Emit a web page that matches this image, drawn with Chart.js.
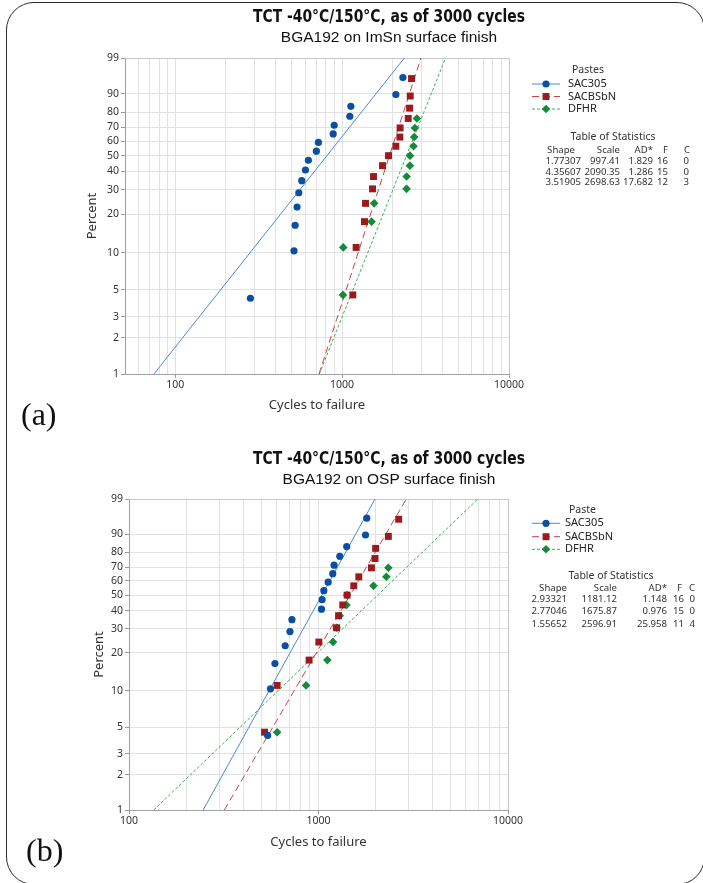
<!DOCTYPE html>
<html>
<head>
<meta charset="utf-8">
<script src="https://cdn.jsdelivr.net/npm/chart.js@4.4.1/dist/chart.umd.min.js"></script>
<style>
  html, body { margin: 0; padding: 0; background: #fff; }
  body { width: 703px; height: 883px; position: relative; overflow: hidden; }
  .frame { position: absolute; left: 6px; top: 2px; width: 699px; height: 883px; box-sizing: border-box;
           border: 1.6px solid #2b2b2b; border-radius: 28px; }
  canvas { position: absolute; left: 0; }
  #chartA { top: 0; }
  #chartB { top: 440px; }
  .tag { position: absolute; font-family: 'Liberation Serif', 'Times New Roman', serif; font-size: 32px;
         color: #111; line-height: 1; }
</style>
</head>
<body>
<div class="frame"></div>
<canvas id="chartA" width="703" height="440"></canvas>
<canvas id="chartB" width="703" height="443"></canvas>
<div class="tag" style="left:21px; top:398px;">(a)</div>
<div class="tag" style="left:26px; top:834px;">(b)</div>
<script>
// axis ticks
const PCT_TICKS = [1, 2, 3, 5, 10, 20, 30, 40, 50, 60, 70, 80, 90, 99];
const CYCLE_TICKS_A = [50, 60, 70, 80, 90, 100, 200, 300, 400, 500, 600, 700, 800, 900,
                       1000, 2000, 3000, 4000, 5000, 6000, 7000, 8000, 9000, 10000];
const CYCLE_TICKS_B = [100, 200, 300, 400, 500, 600, 700, 800, 900,
                       1000, 2000, 3000, 4000, 5000, 6000, 7000, 8000, 9000, 10000];
const CYCLE_LABELS = [100, 1000, 10000];

const PASTES = ['SAC305', 'SACBSbN', 'DFHR'];
const STAT_HEADERS = ['Shape', 'Scale', 'AD*', 'F', 'C'];

// plotting positions (median ranks)
const RANK_16 = [4.27, 10.37, 16.46, 22.56, 28.66, 34.76, 40.85, 46.95, 53.05, 59.15, 65.24, 71.34, 77.44, 83.54, 89.63, 95.73];
const RANK_15 = [4.55, 11.04, 17.53, 24.03, 30.52, 37.01, 43.51, 50.0, 56.49, 62.99, 69.48, 75.97, 82.47, 88.96, 95.45];

// ImSn surface finish
const IMSN_SAC305_CYC  = [282, 515, 523, 537, 550, 573, 603, 628, 701, 721, 884, 896, 1112, 1128, 2099, 2313];
const IMSN_SACBSBN_CYC = [1159, 1213, 1362, 1381, 1521, 1542, 1746, 1897, 2099, 2219, 2225, 2490, 2537, 2559, 2606];
const IMSN_DFHR_CYC    = [1012, 1016, 1501, 1556, 2432, 2436, 2547, 2550, 2680, 2704, 2729, 2805];
const IMSN_DFHR_PCT    = [4.55, 11.04, 17.53, 24.03, 30.52, 37.01, 43.51, 50.0, 56.49, 62.99, 69.48, 75.97];
const IMSN_SHAPE = [1.77307, 4.35607, 3.51905];
const IMSN_SCALE = [997.41, 2090.35, 2698.63];
const IMSN_AD    = [1.829, 1.286, 17.682];
const IMSN_F     = [16, 15, 12];
const IMSN_C     = [0, 0, 3];

// OSP surface finish
const OSP_SAC305_CYC  = [539, 558, 589, 667, 707, 724, 1037, 1045, 1067, 1124, 1189, 1208, 1295, 1409, 1770, 1798];
const OSP_SACBSBN_CYC = [519, 605, 892, 1004, 1245, 1276, 1343, 1416, 1535, 1632, 1903, 1987, 2003, 2337, 2649];
const OSP_DFHR_CYC    = [605, 860, 1114, 1194, 1248, 1295, 1405, 1416, 1950, 2281, 2337];
const OSP_DFHR_PCT    = [4.55, 11.04, 17.53, 24.03, 30.52, 37.01, 43.51, 50.0, 56.49, 62.99, 69.48];
const OSP_SHAPE = [2.93321, 2.77046, 1.55652];
const OSP_SCALE = [1181.12, 1675.87, 2596.91];
const OSP_AD    = [1.148, 0.976, 25.958];
const OSP_F     = [16, 15, 11];
const OSP_C     = [0, 0, 4];

const STYLES = [
  { point: 'circle',  radius: 3.6, color: '#0b4fa3', line: '#4a8ad6', dash: [] },
  { point: 'rect',    radius: 4.9, color: '#9a1a1e', line: '#c4454a', dash: [7, 4] },
  { point: 'rectRot', radius: 4.3, color: '#148a3a', line: '#3fae52', dash: [3, 2] },
];

const BASE_FONT = "'Noto Sans', 'Open Sans', sans-serif";
const TITLE_FONT = "bold 17px 'Liberation Sans Narrow', 'DejaVu Sans Condensed', 'Liberation Sans', sans-serif";
const SUB_FONT = "15.5px 'Liberation Sans', Arial, sans-serif";

Chart.defaults.font.family = BASE_FONT;
Chart.defaults.color = '#333';

// Weibull probability axis: linear in ln(-ln(1 - p))
const weibullY = p => Math.log(-Math.log(1 - p / 100));
// life at probability p for a 2-parameter Weibull fit
const weibullLife = (p, shape, scale) => scale * Math.pow(-Math.log(1 - p / 100), 1 / shape);

class WeibullScale extends Chart.LinearScale {
  determineDataLimits() {
    this.min = this.options.min;
    this.max = this.options.max;
  }
  buildTicks() {
    this.start = this.min;
    this.end = this.max;
    return PCT_TICKS.map(value => ({ value }));
  }
  configure() {
    super.configure();
    this._wLo = weibullY(this.min);
    this._wHi = weibullY(this.max);
  }
  getPixelForValue(value) {
    return this.getPixelForDecimal((weibullY(value) - this._wLo) / (this._wHi - this._wLo));
  }
  getValueForPixel(pixel) {
    const w = this._wLo + this.getDecimalForPixel(pixel) * (this._wHi - this._wLo);
    return 100 * (1 - Math.exp(-Math.exp(w)));
  }
}
WeibullScale.id = 'weibull';
WeibullScale.defaults = {};
Chart.register(WeibullScale);

// titles, top/right frame, legend and statistics table
const panelDecor = {
  id: 'panelDecor',
  beforeDatasetsDraw(chart) {
    const { ctx, chartArea: a } = chart;
    ctx.save();
    ctx.strokeStyle = '#c6c6c6';
    ctx.lineWidth = 1;
    ctx.beginPath();
    const top = Math.round(a.top) + 0.5, right = Math.round(a.right) + 0.5;
    ctx.moveTo(a.left, top);
    ctx.lineTo(right, top);
    ctx.lineTo(right, a.bottom);
    ctx.stroke();
    ctx.restore();
  },
  afterDraw(chart, args, o) {
    const { ctx } = chart;
    ctx.save();
    ctx.fillStyle = '#111';
    ctx.textAlign = 'center';
    ctx.textBaseline = 'alphabetic';
    ctx.font = TITLE_FONT;
    ctx.fillText(o.title, o.cx, o.titleY, 272);
    ctx.font = SUB_FONT;
    ctx.fillText(o.subtitle, o.cx, o.subtitleY, 218);

    ctx.textBaseline = 'middle';
    ctx.textAlign = 'left';
    ctx.font = '10.5px ' + BASE_FONT;
    ctx.fillStyle = '#333';
    ctx.fillText(o.legendTitle, o.legendTitleX, o.legendTitleY);
    PASTES.forEach((name, i) => {
      const st = STYLES[i];
      const y = o.legendY[i];
      ctx.strokeStyle = st.line;
      ctx.lineWidth = 1;
      ctx.setLineDash(st.dash);
      ctx.beginPath();
      ctx.moveTo(o.swatch[0], y);
      ctx.lineTo(o.swatch[1], y);
      ctx.stroke();
      ctx.setLineDash([]);
      ctx.fillStyle = st.color;
      Chart.helpers.drawPoint(ctx, { pointStyle: st.point, radius: st.radius, rotation: 0, borderWidth: 0 },
        (o.swatch[0] + o.swatch[1]) / 2, y);
      ctx.fillStyle = '#222';
      ctx.font = '11px ' + BASE_FONT;
      ctx.fillText(name, o.legendTextX, y);
    });

    ctx.fillStyle = '#333';
    ctx.font = '10.5px ' + BASE_FONT;
    ctx.textAlign = 'center';
    ctx.fillText('Table of Statistics', o.tableTitleX, o.tableTitleY);
    ctx.font = '9.6px ' + BASE_FONT;
    ctx.textAlign = 'right';
    STAT_HEADERS.forEach((h, j) => ctx.fillText(h, o.headerRight[j], o.headerY));
    const s = o.stats;
    PASTES.forEach((name, i) => {
      const cells = [s.shape[i].toFixed(5), s.scale[i].toFixed(2), s.ad[i].toFixed(3), String(s.f[i]), String(s.c[i])];
      cells.forEach((txt, j) => ctx.fillText(txt, o.valueRight[j], o.rowY[i]));
    });
    ctx.restore();
  }
};

function buildDatasets(cycles, pcts, shapes, scales) {
  const sets = [];
  PASTES.forEach((name, i) => {
    const st = STYLES[i];
    sets.push({
      type: 'scatter',
      label: name,
      data: cycles[i].map((c, k) => ({ x: c, y: pcts[i][k] })),
      pointStyle: st.point,
      pointRadius: st.radius,
      backgroundColor: st.color,
      borderWidth: 0,
      order: 0,
    });
    sets.push({
      type: 'line',
      label: name + ' fit',
      data: [PCT_TICKS[0], PCT_TICKS[PCT_TICKS.length - 1]].map(p => ({ x: weibullLife(p, shapes[i], scales[i]), y: p })),
      borderColor: st.line,
      borderDash: st.dash,
      borderWidth: 1,
      pointRadius: 0,
      fill: false,
      order: 1,
    });
  });
  return sets;
}

function makePanel(id, cfg) {
  return new Chart(document.getElementById(id), {
    type: 'scatter',
    data: { datasets: buildDatasets(cfg.cycles, cfg.pcts, cfg.shape, cfg.scale) },
    options: {
      responsive: false,
      animation: false,
      events: [],
      layout: { padding: cfg.padding },
      plugins: {
        legend: { display: false },
        tooltip: { enabled: false },
        panelDecor: cfg.decor,
      },
      scales: {
        x: {
          type: 'logarithmic',
          min: cfg.xTicks[0],
          max: 10000,
          afterBuildTicks: scale => { scale.ticks = cfg.xTicks.map(v => ({ value: v, major: CYCLE_LABELS.includes(v) })); },
          afterFit: scale => { scale.height = 40; },
          ticks: {
            autoSkip: false, maxRotation: 0, minRotation: 0, padding: 1,
            font: { size: 10.5 }, color: '#333',
            callback: v => CYCLE_LABELS.includes(v) ? String(v) : '',
          },
          grid: {
            color: '#e2e2e2', tickLength: 4,
            tickColor: c => (c.tick && CYCLE_LABELS.includes(c.tick.value)) ? '#9a9a9a' : 'rgba(0,0,0,0)',
          },
          border: { color: '#a0a0a0' },
          title: { display: true, text: 'Cycles to failure', font: { size: 13 }, color: '#333', padding: { top: 0, bottom: cfg.xTitlePad } },
        },
        y: {
          type: 'weibull',
          min: 1,
          max: 99,
          afterFit: scale => { scale.width = cfg.yWidth; },
          ticks: { autoSkip: false, padding: 2, font: { size: 10.5 }, color: '#333', callback: v => String(v) },
          grid: { color: '#e2e2e2', tickLength: 4, tickColor: '#9a9a9a' },
          border: { color: '#a0a0a0' },
          title: { display: true, text: 'Percent', font: { size: 13 }, color: '#333', padding: { top: 0, bottom: 0 } },
        },
      },
    },
    plugins: [panelDecor],
  });
}

makePanel('chartA', {
  cycles: [IMSN_SAC305_CYC, IMSN_SACBSBN_CYC, IMSN_DFHR_CYC],
  pcts: [RANK_16, RANK_15, IMSN_DFHR_PCT],
  shape: IMSN_SHAPE,
  scale: IMSN_SCALE,
  xTicks: CYCLE_TICKS_A,
  yWidth: 41,
  xTitlePad: 1,
  padding: { left: 84, right: 194, top: 58, bottom: 26 },
  decor: {
    title: 'TCT -40°C/150°C, as of 3000 cycles',
    subtitle: 'BGA192 on ImSn surface finish',
    cx: 389, titleY: 22, subtitleY: 42,
    legendTitle: 'Pastes', legendTitleX: 572, legendTitleY: 70,
    swatch: [532, 560], legendTextX: 568, legendY: [84, 96.5, 109],
    tableTitleX: 613, tableTitleY: 137, headerY: 150.5, rowY: [161.5, 171.8, 182.2],
    headerRight: [575, 620, 653, 668, 690], valueRight: [581, 620, 653, 668, 689],
    stats: { shape: IMSN_SHAPE, scale: IMSN_SCALE, ad: IMSN_AD, f: IMSN_F, c: IMSN_C },
  },
});

makePanel('chartB', {
  cycles: [OSP_SAC305_CYC, OSP_SACBSBN_CYC, OSP_DFHR_CYC],
  pcts: [RANK_16, RANK_15, OSP_DFHR_PCT],
  shape: OSP_SHAPE,
  scale: OSP_SCALE,
  xTicks: CYCLE_TICKS_B,
  yWidth: 38,
  xTitlePad: 0,
  padding: { left: 91, right: 195, top: 59, bottom: 33 },
  decor: {
    title: 'TCT -40°C/150°C, as of 3000 cycles',
    subtitle: 'BGA192 on OSP surface finish',
    cx: 389, titleY: 24, subtitleY: 43.5,
    legendTitle: 'Paste', legendTitleX: 569, legendTitleY: 70,
    swatch: [532, 560], legendTextX: 565, legendY: [83.3, 96.7, 109.3],
    tableTitleX: 611, tableTitleY: 136, headerY: 148.3, rowY: [159.3, 171.7, 184.3],
    headerRight: [567, 617, 667, 682, 695], valueRight: [567, 617, 667, 684, 695],
    stats: { shape: OSP_SHAPE, scale: OSP_SCALE, ad: OSP_AD, f: OSP_F, c: OSP_C },
  },
});
</script>
</body>
</html>
